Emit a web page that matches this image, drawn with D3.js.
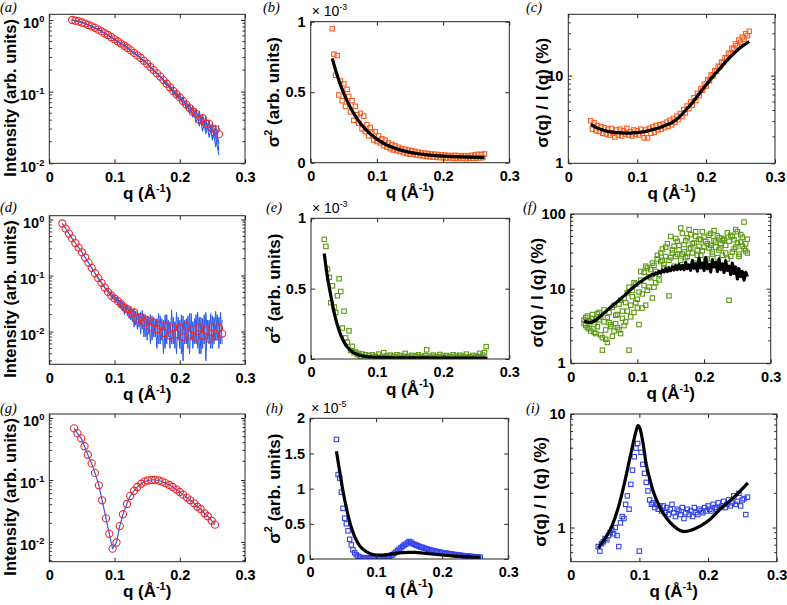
<!DOCTYPE html>
<html><head><meta charset="utf-8">
<script src="https://cdn.jsdelivr.net/npm/d3@7"></script>
<style>body{margin:0;background:#fff}svg{display:block}</style>
</head><body><svg id="c" width="787" height="605"></svg>
<script>
// ---------------- DATA ----------------
// Row 1 (a,b,c)
const qA = [0.035,0.04,0.045,0.05,0.055,0.06,0.065,0.07,0.075,0.08,0.085,0.09,0.095,0.1,0.105,0.11,0.115,0.12,0.125,0.13,0.135,0.14,0.145,0.15,0.155,0.16,0.165,0.17,0.175,0.18,0.185,0.19,0.195,0.2,0.205,0.21,0.215,0.22,0.225,0.23,0.235,0.24,0.245,0.25,0.255,0.26];
const intensityA = [1.00,0.977,0.955,0.923,0.891,0.851,0.813,0.776,0.733,0.692,0.653,0.617,0.575,0.537,0.501,0.468,0.437,0.407,0.376,0.347,0.320,0.295,0.269,0.245,0.221,0.200,0.180,0.162,0.145,0.129,0.115,0.102,0.092,0.083,0.074,0.066,0.059,0.0525,0.049,0.0405,0.0425,0.036,0.0355,0.0305,0.0295,0.0255];
const blueA1 = [1.0,0.975,0.956,0.921,0.893,0.849,0.815,0.774,0.735,0.69,0.655,0.615,0.577,0.535,0.503,0.466,0.439,0.405,0.378,0.345,0.322,0.293,0.271,0.243,0.223,0.198,0.182,0.160,0.147,
  0.136,0.108,0.110,0.083,0.093,0.064,0.076,0.049,0.063,0.037,0.053,0.028,0.045,0.023,0.036,0.017,0.034];
const blueA2 = [0.99,0.98,0.952,0.925,0.888,0.853,0.81,0.778,0.73,0.694,0.65,0.619,0.572,0.539,0.498,0.47,0.434,0.409,0.373,0.349,0.317,0.297,0.266,0.247,0.218,0.202,0.177,0.164,0.142,
  0.121,0.123,0.093,0.101,0.074,0.084,0.057,0.069,0.044,0.058,0.033,0.048,0.026,0.040,0.021,0.034,0.015];
const blueA3 = [1.0,0.978,0.954,0.924,0.89,0.852,0.812,0.777,0.732,0.693,0.652,0.618,0.574,0.538,0.5,0.469,0.436,0.408,0.375,0.348,0.319,0.296,0.268,0.246,0.22,0.201,0.179,0.163,0.144,
  0.131,0.113,0.104,0.090,0.085,0.071,0.068,0.057,0.055,0.045,0.046,0.034,0.038,0.028,0.030,0.023,0.013];
const blueA4 = [0.995,0.976,0.957,0.922,0.892,0.85,0.814,0.775,0.734,0.691,0.654,0.616,0.576,0.536,0.502,0.467,0.438,0.406,0.377,0.346,0.321,0.294,0.27,0.244,0.222,0.199,0.181,0.161,0.146,
  0.125,0.120,0.097,0.096,0.077,0.080,0.060,0.065,0.046,0.054,0.035,0.045,0.029,0.037,0.023,0.031,0.019];

const qB = [0.0325,0.035,0.0375,0.04,0.0425,0.045,0.0475,0.05,0.0525,0.055,
  0.0575,0.06,0.0625,0.065,0.0675,0.07,0.0725,0.075,0.0775,0.08,
  0.0825,0.085,0.0875,0.09,0.0925,0.095,0.0975,0.1,0.1025,0.105,
  0.1075,0.11,0.1125,0.115,0.1175,0.12,0.1225,0.125,0.1275,0.13,
  0.1325,0.135,0.1375,0.14,0.1425,0.145,0.1475,0.15,0.1525,0.155,
  0.1575,0.16,0.1625,0.165,0.1675,0.17,0.1725,0.175,0.1775,0.18,
  0.1825,0.185,0.1875,0.19,0.1925,0.195,0.1975,0.2,0.2025,0.205,
  0.2075,0.21,0.2125,0.215,0.2175,0.22,0.2225,0.225,0.2275,0.23,
  0.2325,0.235,0.2375,0.24,0.2425,0.245,0.2475,0.25,0.2525,0.255,
  0.2575,0.26,0.2625];
// sigma^2 in units of 1e-3
const sigma2B = [0.95,0.77,0.62,0.76,0.48,0.58,0.44,0.56,0.40,0.52,
  0.47,0.36,0.44,0.30,0.40,0.34,0.28,0.35,0.24,0.33,
  0.22,0.27,0.19,0.25,0.21,0.16,0.22,0.15,0.19,0.14,
  0.17,0.12,0.16,0.11,0.14,0.10,0.13,0.09,0.12,0.085,
  0.11,0.08,0.10,0.07,0.095,0.065,0.09,0.06,0.085,0.06,
  0.08,0.055,0.075,0.05,0.07,0.048,0.068,0.045,0.065,0.042,
  0.062,0.04,0.06,0.038,0.058,0.036,0.055,0.035,0.054,0.033,
  0.052,0.034,0.05,0.031,0.052,0.03,0.05,0.032,0.048,0.03,
  0.05,0.029,0.048,0.031,0.052,0.03,0.055,0.032,0.06,0.034,
  0.058,0.036,0.062];
const qFitB = [0.0325,0.035,0.04,0.045,0.05,0.055,0.06,0.065,0.07,0.075,0.08,0.09,0.1,0.11,0.12,0.13,0.14,0.15,0.16,0.18,0.2,0.22,0.24,0.2625];
const fitB = [0.74,0.698,0.62,0.552,0.492,0.438,0.392,0.35,0.313,0.28,0.252,0.204,0.167,0.138,0.115,0.098,0.084,0.073,0.065,0.054,0.047,0.043,0.04,0.037];
const ratioC = [3.05,2.45,2.9,2.35,2.7,2.3,2.6,2.2,2.55,2.15,
  2.45,2.1,2.5,2.2,2.0,2.4,2.1,2.45,2.05,2.35,
  2.15,2.5,2.1,2.3,2.05,2.4,2.15,2.35,2.1,2.45,
  2.2,1.95,2.4,1.95,2.5,2.2,2.6,2.25,2.7,2.4,
  2.75,2.45,2.8,2.55,2.95,2.65,3.1,2.75,3.25,2.95,
  3.45,3.15,3.7,3.4,4.1,3.75,4.5,4.2,5.0,4.6,
  5.6,5.2,6.3,5.9,7.1,6.8,8.0,7.6,9.0,8.7,
  10.2,9.9,11.4,11.2,12.8,12.6,14.3,14.2,16.0,15.8,
  18.0,17.6,20.5,20.0,23.0,22.0,25.5,24.0,27.5,26.0,
  30.0,28.5,32.0];
const qFitC = [0.0325,0.04,0.05,0.06,0.07,0.08,0.09,0.1,0.11,0.12,0.13,0.14,0.15,0.16,0.17,0.18,0.19,0.2,0.21,0.22,0.23,0.24,0.25,0.2625];
const fitC = [2.78,2.57,2.4,2.29,2.24,2.21,2.21,2.24,2.29,2.4,2.51,2.69,2.9,3.3,4.0,4.9,6.2,7.8,9.8,12.0,14.8,17.8,20.9,24.5];

// Row 2 (d,e,f)
const qD = [0.02,0.025,0.03,0.035,0.04,0.045,0.05,0.055,0.06,0.065,0.07,0.075,0.08,0.085,0.09,0.095,0.1,0.105,0.11,0.115,0.12,0.125,0.13,0.135,0.14,0.145,0.15,0.155,0.16,0.165,0.17,0.175,0.18,0.185,0.19,0.195,0.2,0.205,0.21,0.215,0.22,0.225,0.23,0.235,0.24,0.245,0.25,0.255,0.26,0.265];
const intensityD = [0.85,0.69,0.56,0.46,0.38,0.315,0.26,0.21,0.17,0.137,0.11,0.09,0.074,0.061,0.051,0.044,0.039,0.035,0.031,0.027,0.025,0.021,0.022,0.017,0.018,0.0145,0.016,0.012,0.0145,0.011,0.013,0.0095,0.0125,0.0085,0.012,0.009,0.0115,0.008,0.0125,0.0088,0.011,0.0078,0.0118,0.0085,0.0105,0.0075,0.012,0.0082,0.0115,0.0092];
const qE = [0.02,0.0225,0.025,0.0275,0.03,0.0325,0.035,0.0375,0.04,0.0425,
  0.045,0.0475,0.05,0.0525,0.055,0.0575,0.06,0.0625,0.065,0.0675,
  0.07,0.0725,0.075,0.0775,0.08,0.0825,0.085,0.0875,0.09,0.0925,
  0.095,0.0975,0.1,0.1025,0.105,0.1075,0.11,0.1125,0.115,0.1175,
  0.12,0.1225,0.125,0.1275,0.13,0.1325,0.135,0.1375,0.14,0.1425,
  0.145,0.1475,0.15,0.1525,0.155,0.1575,0.16,0.1625,0.165,0.1675,
  0.17,0.1725,0.175,0.1775,0.18,0.1825,0.185,0.1875,0.19,0.1925,
  0.195,0.1975,0.2,0.2025,0.205,0.2075,0.21,0.2125,0.215,0.2175,
  0.22,0.2225,0.225,0.2275,0.23,0.2325,0.235,0.2375,0.24,0.2425,
  0.245,0.2475,0.25,0.2525,0.255,0.2575,0.26,0.2625,0.265];
const blueD1 = [0.86,0.76,0.70,0.61,0.57,0.50,0.47,0.41,0.385,0.34,0.32,0.28,0.265,0.23,0.215,0.185,0.175,0.15,0.14,0.12,0.113,
  0.097,0.093,0.079,0.077,0.064,0.063,0.053,0.058,0.045,0.05,0.038,0.045,0.033,0.042,0.027,0.037,0.024,0.033,0.022,0.03,
  0.017,0.028,0.015,0.026,0.013,0.024,0.012,0.022,0.011,0.021,
  0.008,0.019,0.009,0.02,0.007,0.018,0.008,0.017,0.006,0.019,
  0.007,0.016,0.005,0.02,0.008,0.015,0.006,0.018,0.005,0.022,
  0.007,0.016,0.004,0.019,0.006,0.017,0.005,0.021,0.007,0.015,
  0.006,0.02,0.005,0.018,0.004,0.017,0.006,0.022,0.007,0.016,
  0.005,0.019,0.006,0.023,0.007,0.018,0.006,0.016];
const blueD2 = [0.84,0.78,0.68,0.63,0.55,0.52,0.45,0.43,0.375,0.35,0.31,0.29,0.255,0.24,0.205,0.195,0.165,0.156,0.134,0.126,0.107,
  0.103,0.087,0.085,0.071,0.07,0.059,0.058,0.049,0.05,0.041,0.047,0.035,0.041,0.03,0.036,0.026,0.034,0.02,0.03,0.019,
  0.027,0.016,0.025,0.012,0.023,0.011,0.021,0.009,0.024,0.008,
  0.02,0.007,0.018,0.006,0.019,0.008,0.016,0.005,0.021,0.006,
  0.017,0.004,0.02,0.006,0.016,0.005,0.024,0.006,0.015,0.004,
  0.018,0.005,0.02,0.003,0.016,0.006,0.019,0.004,0.021,0.005,
  0.017,0.006,0.022,0.004,0.018,0.005,0.02,0.003,0.016,0.006,
  0.021,0.005,0.018,0.007,0.02,0.005,0.022,0.006];
// sigma^2 in units of 1e-3
const sigma2E = [0.85,0.80,0.64,0.58,0.40,0.52,0.37,0.33,0.45,0.57,0.48,0.22,0.34,0.15,0.12,0.20,0.06,0.09,0.045,0.05,0.03,0.04,0.02,0.035,0.012,0.03,
  0.01,0.025,0.005,0.03,0.015,0.02,0.004,0.035,0.01,0.018,
  0.045,0.008,0.022,0.012,0.028,0.003,0.02,0.015,0.03,0.006,
  0.025,0.01,0.018,0.04,0.008,0.02,0.012,0.026,0.004,0.022,
  0.015,0.03,0.006,0.019,0.01,0.024,0.065,0.008,0.02,0.012,
  0.028,0.005,0.018,0.014,0.032,0.007,0.021,0.01,0.025,0.004,
  0.019,0.013,0.03,0.006,0.022,0.011,0.027,0.008,0.02,0.014,
  0.035,0.006,0.018,0.012,0.026,0.009,0.022,0.015,0.04,0.01,
  0.028,0.045,0.088];
const qFitE = [0.02,0.025,0.03,0.035,0.04,0.045,0.05,0.055,0.06,0.07,0.08,0.09,0.1,0.12,0.15,0.2,0.267];
const fitE = [0.75,0.58,0.45,0.33,0.24,0.17,0.12,0.085,0.06,0.032,0.02,0.014,0.011,0.009,0.008,0.007,0.006];
const ratioF1 = [3.8,3.2,4.3,2.9,3.6,4.5,2.6,3.9,3.1,4.8,
  2.4,1.5,5.2,2.1,4.1,3.5,3.3,5.6,2.7,4.4,
  3.0,6.2,2.5,5.0,7.4,3.6,8.8,1.5,6.0,9.5,
  4.8,11.5,7.2,3.3,13.0,8.5,16.5,6.0,19.0,10.5,
  14.0,7.5,20.5,12.0,25.0,15.5,30.0,24.0,21.0,36.0,
  18.5,8.0,26.0,33.0,20.0,47.0,29.0,38.0,24.0,55.0,
  31.0,44.0,27.0,62.0,35.0,40.0,22.0,50.0,33.0,46.0,
  28.0,58.0,36.0,43.0,25.0,52.0,38.0,31.0,60.0,42.0,
  26.0,48.0,35.0,44.0,45.0,30.0,56.0,7.0,27.0,50.0,
  34.0,62.0,41.0,29.0,53.0,37.0,78.0,32.0,46.0];
const ratioF2 = [3.4,4.1,3.0,3.7,2.7,4.0,3.3,2.5,4.6,3.8,
  4.2,2.2,3.6,2.8,1.9,4.8,3.1,2.3,6.0,3.4,
  4.5,2.8,7.0,4.0,3.2,6.5,5.0,10.5,4.2,7.8,
  12.0,6.5,5.5,9.0,17.0,5.5,11.0,20.0,9.5,14.5,
  18.0,22.0,10.5,17.0,28.0,13.0,23.0,34.0,19.0,27.0,
  40.0,24.0,50.0,30.0,37.0,27.0,43.0,33.0,65.0,29.0,
  39.0,26.0,48.0,34.0,53.0,30.0,41.0,58.0,28.0,37.0,
  45.0,32.0,49.0,24.0,40.0,35.0,55.0,29.0,44.0,36.0,
  51.0,33.0,40.0,28.0,47.0,38.0,25.0,43.0,52.0,31.0,
  45.0,36.0,58.0,27.0,42.0,49.0,34.0,40.0,30.0];
const fitF = [3.7,3.62,3.56,3.53,3.53,3.58,3.66,3.78,3.95,4.12,4.3,4.5,4.7,4.93,5.16,5.4,5.62,5.88,6.14,6.42,6.7,
  7.0,7.3,7.65,8.0,8.4,8.8,9.25,9.7,10.1,10.6,11.1,11.5,12.0,12.4,12.9,13.3,13.8,14.2,14.6,15.0,
  15.6,15.2,16.3,15.8,17.1,16.2,17.8,16.7,18.5,17.0,
  18.9,17.4,19.6,17.8,20.3,18.0,21.0,18.2,20.5,17.9,
  22.5,18.5,20.8,17.6,24.0,18.8,21.5,17.2,25.5,19.0,
  22.0,17.5,26.0,18.5,21.0,16.8,24.5,19.5,22.5,17.0,
  25.0,18.0,21.5,16.5,23.5,17.5,20.0,15.5,22.0,16.0,
  19.5,13.5,18.5,14.5,17.0,13.0,16.5,14.5];

// Row 3 (g,h,i)
const qG = [0.038,0.043,0.049,0.054,0.059,0.065,0.070,0.076,0.081,0.087,0.092,0.097,0.103,0.108,0.113,0.119,0.124,0.130,0.135,0.141,0.146,0.151,0.157,0.162,0.168,0.173,0.178,0.184,0.189,0.195,0.200,0.205,0.211,0.216,0.222,0.227,0.232,0.238,0.243,0.249,0.254];
const intensityG = [0.68,0.57,0.47,0.35,0.255,0.185,0.13,0.082,0.047,0.024,0.0135,0.0078,0.0098,0.018,0.028,0.041,0.055,0.067,0.077,0.087,0.094,0.098,0.100,0.100,0.098,0.094,0.089,0.083,0.077,0.070,0.064,0.058,0.052,0.047,0.042,0.037,0.034,0.029,0.026,0.022,0.019];
const qH = [0.04,0.0425,0.045,0.0475,0.05,0.0525,0.055,0.0575,0.06,0.0625,
  0.065,0.0675,0.07,0.0725,0.075,0.0775,0.08,0.0825,0.085,0.0875,
  0.09,0.0925,0.095,0.0975,0.1,0.1025,0.105,0.1075,0.11,0.1125,
  0.115,0.1175,0.12,0.1225,0.125,0.1275,0.13,0.1325,0.135,0.1375,
  0.14,0.1425,0.145,0.1475,0.15,0.1525,0.155,0.1575,0.16,0.1625,
  0.165,0.1675,0.17,0.1725,0.175,0.1775,0.18,0.1825,0.185,0.1875,
  0.19,0.1925,0.195,0.1975,0.2,0.2025,0.205,0.2075,0.21,0.2125,
  0.215,0.2175,0.22,0.2225,0.225,0.2275,0.23,0.2325,0.235,0.2375,
  0.24,0.2425,0.245,0.2475,0.25,0.2525,0.255,0.2575];
// sigma^2 in units of 1e-5
const sigma2H = [1.70,1.20,1.15,0.95,0.72,0.58,0.50,0.40,0.28,0.20,0.13,0.09,0.06,0.04,0.03,0.02,0.015,
  0.01,0.02,0.012,0.008,0.018,0.01,0.015,0.02,0.012,0.022,0.018,0.025,0.02,0.03,0.028,
  0.035,0.05,0.06,0.08,0.1,0.12,0.14,0.16,0.18,0.2,0.21,0.23,0.25,0.24,0.22,0.21,0.2,0.19,0.18,0.17,0.165,0.155,0.15,0.14,0.135,0.125,0.12,0.115,0.11,
  0.105,0.1,0.095,0.09,0.088,0.083,0.08,0.076,0.072,0.068,0.065,0.062,0.058,0.055,0.052,0.05,0.047,0.044,0.042,0.04,0.037,0.035,0.033,0.031,0.029,0.027,0.025];
const qFitH = [0.04,0.045,0.05,0.055,0.06,0.065,0.07,0.075,0.08,0.09,0.1,0.11,0.12,0.13,0.14,0.15,0.16,0.17,0.18,0.2,0.22,0.24,0.258];
const fitH = [1.53,1.24,0.96,0.73,0.53,0.38,0.27,0.19,0.14,0.08,0.057,0.055,0.066,0.08,0.09,0.095,0.093,0.085,0.075,0.057,0.042,0.03,0.02];
const ratioI = [0.68,0.62,0.72,0.75,0.8,0.78,0.85,0.9,0.95,0.88,1.0,0.85,0.68,1.1,1.25,1.2,1.6,1.9,1.45,2.4,3.2,4.2,5.0,5.5,0.62,4.6,3.6,3.0,2.5,2.1,1.75,1.6,1.65,1.5,1.6,1.45,1.55,
  1.4,1.55,1.35,1.5,1.3,1.45,1.6,1.35,1.25,1.45,1.4,1.3,1.5,1.2,1.35,1.45,1.3,1.4,1.25,1.5,1.35,1.3,1.45,1.4,
  1.35,1.5,1.4,1.55,1.45,1.4,1.6,1.5,1.45,1.65,1.5,1.55,1.7,1.5,1.6,1.75,1.55,1.65,1.9,1.6,1.7,2.0,1.55,1.75,1.8,1.3,1.85];
const qFitI = [0.04,0.05,0.06,0.07,0.08,0.085,0.09,0.095,0.098,0.101,0.105,0.11,0.115,0.12,0.13,0.14,0.15,0.165,0.18,0.2,0.22,0.24,0.258];
const fitI = [0.66,0.8,1.03,1.55,2.74,3.8,5.2,7.0,7.9,7.4,5.7,3.6,2.7,2.1,1.5,1.2,1.03,0.92,0.97,1.14,1.5,1.9,2.47];

const xTickValues = [0, 0.1, 0.2, 0.3];

// ---------------- DRAWING ----------------
const svg = d3.select("#c");
const FONT = '"Liberation Sans", Arial, Helvetica, sans-serif';
const AX = "#262626";
const RED = "#ec2a2a", BLUE = "#2d5cf2", ORANGE = "#fb5b1c", GREEN = "#5c9a14", BSQ = "#3243ee";

function rich(t, parts, fs) {
  let shift = 0;
  parts.forEach(p => {
    if (typeof p === "string") {
      const s = t.append("tspan").text(p);
      if (shift) { s.attr("dy", shift); shift = 0; }
    } else {
      t.append("tspan").attr("dy", -fs * 0.42).attr("font-size", fs * 0.64).text(p.sup);
      shift = fs * 0.42;
    }
  });
}
const pts = (qs, vs) => qs.map((q, i) => [q, vs[i]]);

let clipN = 0;
function panel(o) {
  const x = d3.scaleLinear().domain([0, 0.3]).range([o.x0, o.x1]);
  const y = (o.log ? d3.scaleLog() : d3.scaleLinear()).domain(o.yd).range([o.y1, o.y0]);
  const g = svg.append("g");
  const id = "clip" + (clipN++);
  svg.append("clipPath").attr("id", id).append("rect")
    .attr("x", o.x0).attr("y", o.y0).attr("width", o.x1 - o.x0).attr("height", o.y1 - o.y0);
  const plot = g.append("g").attr("clip-path", `url(#${id})`);
  o.draw(plot, x, y);

  const styleAxis = sel => {
    sel.select(".domain").remove();
    sel.selectAll(".tick line").attr("stroke", AX);
    sel.attr("font-family", FONT).attr("font-size", 14.5).attr("font-weight", "bold");
    sel.selectAll("text").attr("fill", "#000");
  };
  g.append("g").attr("transform", `translate(0,${o.y1})`)
    .call(d3.axisBottom(x).tickValues(xTickValues).tickSize(-4).tickPadding(8).tickFormat(d => String(d)))
    .call(styleAxis);
  g.append("g").attr("transform", `translate(0,${o.y0})`)
    .call(d3.axisTop(x).tickValues(xTickValues).tickSize(-4).tickFormat(""))
    .call(styleAxis);
  const left = g.append("g").attr("transform", `translate(${o.x0},0)`)
    .call(d3.axisLeft(y).tickValues(o.yt).tickSize(-4).tickPadding(5).tickFormat(d => String(d)))
    .call(styleAxis);
  g.append("g").attr("transform", `translate(${o.x1},0)`)
    .call(d3.axisRight(y).tickValues(o.yt).tickSize(-4).tickFormat(""))
    .call(styleAxis);
  if (o.sci) {
    left.selectAll(".tick text").each(function (d) {
      const t = d3.select(this); t.text(null).attr("dy", "0.55em");
      rich(t, ["10", { sup: String(Math.round(Math.log10(d))) }], 14.5);
    });
  }
  if (o.log) {
    const [lo, hi] = o.yd;
    const minor = [];
    for (let k = Math.floor(Math.log10(lo)); k <= Math.ceil(Math.log10(hi)); k++)
      for (let m = 2; m <= 9; m++) { const v = m * Math.pow(10, k); if (v > lo && v < hi) minor.push(v); }
    [[o.x0, 1], [o.x1, -1]].forEach(([xx, dir]) => {
      g.append("g").selectAll("line").data(minor).join("line")
        .attr("x1", xx).attr("x2", xx + dir * 2.5)
        .attr("y1", d => y(d)).attr("y2", d => y(d)).attr("stroke", AX);
    });
  }
  g.append("rect").attr("x", o.x0).attr("y", o.y0).attr("width", o.x1 - o.x0).attr("height", o.y1 - o.y0)
    .attr("fill", "none").attr("stroke", AX).attr("stroke-width", 1);

  const xl = g.append("text").attr("x", (o.x0 + o.x1) / 2).attr("y", o.y1 + 35.5)
    .attr("text-anchor", "middle").attr("font-family", FONT).attr("font-weight", "bold").attr("font-size", 17);
  rich(xl, ["q (Å", { sup: "-1" }, ")"], 17);
  const yl = g.append("text").attr("transform", `translate(${o.lx},${(o.y0 + o.y1) / 2 + (o.ly || 0)}) rotate(-90)`)
    .attr("text-anchor", "middle").attr("font-family", FONT).attr("font-weight", "bold").attr("font-size", o.lfs);
  rich(yl, o.ylabel, o.lfs);
  g.append("text").attr("x", o.px).attr("y", o.py).attr("font-family", '"Liberation Serif", "Times New Roman", serif')
    .attr("font-style", "italic").attr("font-size", 14.5).text(o.letter);
  if (o.mult) {
    const m = g.append("text").attr("x", o.x0 + 1).attr("y", o.y0 - 5.5)
      .attr("font-family", FONT).attr("font-size", 14);
    rich(m, ["\u00d7 10", { sup: o.mult }], 14);
  }
}

function lines(g, x, y, qs, series, color, w, curve) {
  const ln = d3.line().x(d => x(d[0])).y(d => y(d[1])).curve(curve || d3.curveLinear);
  series.forEach(s => g.append("path").datum(pts(qs, s)).attr("d", ln)
    .attr("fill", "none").attr("stroke", color).attr("stroke-width", w).attr("stroke-linejoin", "round"));
}
function circles(g, x, y, qs, vs, color) {
  g.append("g").selectAll("circle").data(pts(qs, vs)).join("circle")
    .attr("cx", d => x(d[0])).attr("cy", d => y(d[1])).attr("r", 3.6)
    .attr("fill", "none").attr("stroke", color).attr("stroke-width", 1.1);
}
function squares(g, x, y, qs, vs, color) {
  const s = 4.4;
  g.append("g").selectAll("rect").data(pts(qs, vs)).join("rect")
    .attr("x", d => x(d[0]) - s / 2).attr("y", d => y(d[1]) - s / 2).attr("width", s).attr("height", s)
    .attr("fill", "none").attr("stroke", color).attr("stroke-width", 1.1);
}
function fit(g, x, y, qs, vs, curve) {
  lines(g, x, y, qs, [vs], "#000", 3.2, curve || d3.curveMonotoneX);
}

const logLabel = ["Intensity (arb. units)"];
const s2Label = ["\u03c3", { sup: "2" }, " (arb. units)"];
const rLabel = ["\u03c3(q) / I (q) (%)"];

// Row 1
panel({ letter: "(a)", px: 0, py: 12, x0: 49.3, x1: 245, y0: 14.3, y1: 163.3, log: true, sci: true,
  yd: [0.01, 1.2], yt: [0.01, 0.1, 1], lx: 16, ly: 9, lfs: 16.5, ylabel: logLabel,
  draw: (g, x, y) => { lines(g, x, y, qA, [blueA1, blueA2, blueA3, blueA4], BLUE, 1.1); circles(g, x, y, qA, intensityA, RED); } });
panel({ letter: "(b)", px: 263, py: 12, x0: 310.7, x1: 509.3, y0: 21.7, y1: 162.7, yd: [0, 1], yt: [0, 0.5, 1],
  lx: 279, lfs: 17, ylabel: s2Label, mult: "-3",
  draw: (g, x, y) => { squares(g, x, y, qB, sigma2B, ORANGE); fit(g, x, y, qFitB, fitB); } });
panel({ letter: "(c)", px: 526, py: 12, x0: 568.3, x1: 775, y0: 14.3, y1: 163.3, log: true, yd: [1, 50], yt: [1, 10],
  lx: 548, ly: 4, lfs: 17, ylabel: rLabel,
  draw: (g, x, y) => { squares(g, x, y, qB, ratioC, ORANGE); fit(g, x, y, qFitC, fitC); } });

// Row 2
panel({ letter: "(d)", px: 0, py: 212, x0: 49.3, x1: 245, y0: 215.7, y1: 364.3, log: true, sci: true,
  yd: [0.0026, 1.17], yt: [0.01, 0.1, 1], lx: 16, ly: 9, lfs: 16.5, ylabel: logLabel,
  draw: (g, x, y) => { lines(g, x, y, qE, [blueD1, blueD2], BLUE, 1); circles(g, x, y, qD, intensityD, RED); } });
panel({ letter: "(e)", px: 266, py: 212, x0: 311, x1: 509.3, y0: 218.3, y1: 359, yd: [0, 1], yt: [0, 0.5, 1],
  lx: 280, lfs: 17, ylabel: s2Label, mult: "-3",
  draw: (g, x, y) => { squares(g, x, y, qE, sigma2E, GREEN); fit(g, x, y, qFitE, fitE); } });
panel({ letter: "(f)", px: 523, py: 212, x0: 570.7, x1: 770.7, y0: 214, y1: 363.3, log: true, yd: [1, 100], yt: [1, 10, 100],
  lx: 543, ly: 4, lfs: 17, ylabel: rLabel,
  draw: (g, x, y) => { squares(g, x, y, qE, ratioF1, GREEN); squares(g, x, y, qE, ratioF2, GREEN); fit(g, x, y, qE, fitF, d3.curveLinear); } });

// Row 3
panel({ letter: "(g)", px: 0, py: 413, x0: 49.3, x1: 245, y0: 414, y1: 561.7, log: true, sci: true,
  yd: [0.0048, 1.16], yt: [0.01, 0.1, 1], lx: 16, ly: 9, lfs: 16.5, ylabel: logLabel,
  draw: (g, x, y) => { lines(g, x, y, qG, [intensityG], BLUE, 1.2); circles(g, x, y, qG, intensityG, RED); } });
panel({ letter: "(h)", px: 266, py: 413, x0: 310, x1: 508.3, y0: 418.3, y1: 559, yd: [0, 2], yt: [0, 0.5, 1, 1.5, 2],
  lx: 279.5, lfs: 17, ylabel: s2Label, mult: "-5",
  draw: (g, x, y) => { squares(g, x, y, qH, sigma2H, BSQ); fit(g, x, y, qFitH, fitH); } });
panel({ letter: "(i)", px: 526, py: 413, x0: 570.7, x1: 776.7, y0: 414, y1: 561.7, log: true, yd: [0.5, 10], yt: [1, 10],
  lx: 546, ly: 4, lfs: 17, ylabel: rLabel,
  draw: (g, x, y) => { squares(g, x, y, qH, ratioI, BSQ); fit(g, x, y, qFitI, fitI); } });
</script>
</body></html>
